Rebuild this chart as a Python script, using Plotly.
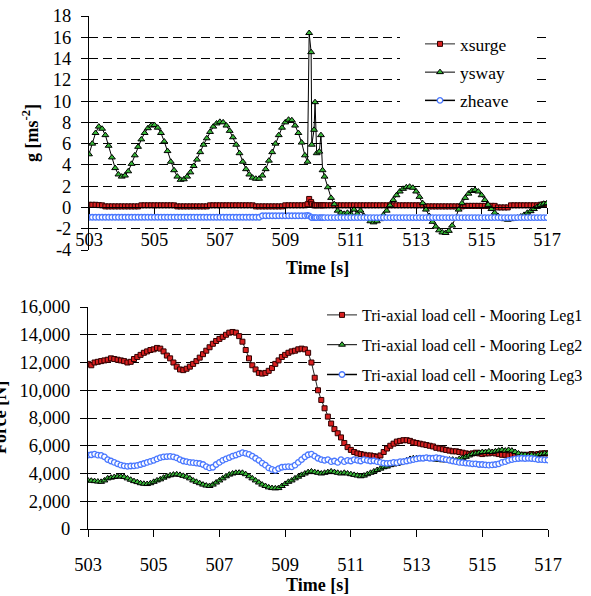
import numpy as np
import plotly.graph_objects as go

# ---------------- DATA ----------------
# Top chart: acceleration g [ms-2]
t_top_a = list(np.round(np.arange(503.0, 509.65, 0.1), 2))
t_top_spike = [509.68, 509.73, 509.79, 509.81, 509.88, 509.91, 509.96, 510.04, 510.09, 510.14, 510.2]
t_top_b = list(np.round(np.arange(510.3, 517.05, 0.1), 2))
time_top = t_top_a + t_top_spike + t_top_b

ysway = [5.0, 6.0, 7.0, 7.6, 7.4, 6.8, 5.8, 4.7, 3.7, 3.1,
         2.9, 3.0, 3.4, 4.1, 4.9, 5.7, 6.4, 7.0, 7.45, 7.7,
         7.75, 7.5, 7.0, 6.2, 5.3, 4.3, 3.5, 2.9, 2.6, 2.65,
         2.9, 3.3, 3.9, 4.5, 5.2, 5.9, 6.5, 7.1, 7.6, 7.9,
         8.05, 8.0, 7.7, 7.2, 6.6, 5.9, 5.1, 4.3, 3.6, 3.1,
         2.8, 2.7, 2.7, 3.0, 3.6, 4.4, 5.2, 6.0, 6.8, 7.5,
         8.0, 8.25, 8.2, 7.7, 7.0, 6.1, 4.9,
         4.3, 16.4, 14.6, 5.9, 7.3, 9.9, 5.1, 5.25, 6.8, 3.5, 2.9,
         1.9, 0.9, 0.3, -0.3, -0.5, -0.6, -0.5, -0.6, -0.2, -0.6,
         -0.3, -0.8, -1.0, -1.3, -1.4, -1.3, -1.1, -0.7, -0.3, 0.2,
         0.7, 1.15, 1.5, 1.75, 1.9, 1.95, 1.85, 1.5, 1.0, 0.4,
         -0.2, -0.8, -1.35, -1.8, -2.15, -2.35, -2.4, -2.2, -1.7, -1.0,
         -0.2, 0.4, 0.9, 1.3, 1.55, 1.65, 1.5, 1.15, 0.7, 0.25,
         -0.15, -0.5, -0.8, -1.0, -1.1, -1.15, -1.1, -1.05, -0.95, -0.85,
         -0.7, -0.5, -0.35, -0.15, 0.05, 0.25, 0.35, 0.4]

xsurge = [0.25, 0.25, 0.25, 0.22, 0.2,
          0.1, 0.1, 0.1, 0.1, 0.1, 0.1, 0.1, 0.1, 0.1, 0.1, 0.1,
          0.2, 0.2, 0.2, 0.2, 0.2, 0.2, 0.2, 0.2, 0.2, 0.2, 0.2,
          0.1, 0.1, 0.1, 0.1, 0.1, 0.1, 0.1, 0.1, 0.1, 0.1,
          0.2, 0.2, 0.2, 0.2, 0.2, 0.2, 0.2, 0.2, 0.2, 0.2, 0.2, 0.2, 0.2, 0.2,
          0.1, 0.1, 0.1, 0.1, 0.1, 0.1, 0.1, 0.1, 0.1,
          0.2, 0.2, 0.2, 0.2, 0.2, 0.2, 0.2,
          0.3, 0.8, 0.5, 0.3, 0.2, 0.2, 0.2, 0.2, 0.2, 0.2, 0.2,
          0.2, 0.2, 0.2, 0.2, 0.2, 0.2, 0.2, 0.2, 0.2, 0.2,
          0.2, 0.2, 0.2, 0.2, 0.2, 0.2, 0.2, 0.2, 0.2, 0.2,
          0.2, 0.2, 0.2, 0.2, 0.2, 0.2, 0.2, 0.2, 0.2, 0.2,
          0.1, 0.1, 0.1, 0.1, 0.1, 0.1, 0.1, 0.1, 0.1, 0.1, 0.1, 0.1,
          0.15, 0.15, 0.15, 0.15, 0.15, 0.15, 0.15, 0.15, 0.15, 0.15,
          0.0, 0.0, 0.0, 0.0,
          0.2, 0.2, 0.2, 0.2, 0.2, 0.2, 0.2, 0.2, 0.2, 0.25, 0.3, 0.3]

zheave = [-0.92, -0.92, -0.92, -0.92, -0.92, -0.92, -0.92, -0.92, -0.92, -0.92,
          -0.92, -0.92, -0.92, -0.92, -0.92, -0.92, -0.92, -0.92, -0.92, -0.92,
          -0.92, -0.92, -0.92, -0.92, -0.92, -0.92, -0.92, -0.92, -0.92, -0.92,
          -0.92, -0.92, -0.92, -0.92, -0.92, -0.92, -0.92, -0.92, -0.92, -0.92,
          -0.92, -0.92, -0.92, -0.92, -0.92, -0.92, -0.92, -0.92, -0.92, -0.92,
          -0.92, -0.92, -0.92,
          -0.78, -0.78, -0.78, -0.78, -0.78, -0.78, -0.78, -0.78, -0.78, -0.78,
          -0.78, -0.78, -0.78, -0.78,
          -0.75, -0.8, -0.9, -0.95, -0.95, -0.95, -0.95, -0.95, -0.95, -0.95, -0.95,
          -0.95, -0.95, -0.95, -0.95, -0.95, -0.95, -0.95, -0.95, -0.95, -0.95,
          -0.95, -0.95, -0.95, -0.95, -0.95, -0.95, -0.95, -0.95, -0.95, -0.95,
          -0.95, -0.95, -0.95, -0.95, -0.95, -0.95, -0.95, -0.95, -0.95, -0.95,
          -0.95, -0.95, -0.95, -0.95, -0.95, -0.95, -0.95, -0.95, -0.95, -0.95,
          -0.95, -0.95, -0.95, -0.95, -0.95, -0.95, -0.95, -0.95, -0.95, -0.95,
          -0.95, -0.95, -0.95, -0.95, -0.95, -0.95, -0.95, -0.95, -0.95, -0.95,
          -0.95, -0.95, -0.95, -0.95, -0.95, -0.95, -0.95, -0.95]

# Bottom chart: Force [N]
time_bot = list(np.round(np.arange(503.0, 517.05, 0.1), 2))

leg1 = [11900, 11800, 12000, 12050, 12100, 12150, 12200, 12300, 12250, 12200,
        12150, 12100, 12000, 12050, 12250, 12400, 12550, 12700, 12800, 12900,
        12950, 13050, 13000, 12800, 12500, 12300, 12000, 11700, 11500, 11450,
        11550, 11700, 11900, 12100, 12350, 12600, 12850, 13100, 13350, 13550,
        13700, 13850, 14000, 14150, 14200, 14150, 13900, 13500, 12900, 12300,
        11800, 11500, 11250, 11200, 11250, 11400, 11600, 11900, 12150, 12400,
        12550, 12700, 12800, 12850, 12950, 13000, 12950, 12700, 12000, 10900,
        10000, 9300, 8700, 8100, 7600, 7200, 6900, 6600, 6200, 5900,
        5700, 5550, 5450, 5400, 5350, 5300, 5300, 5250, 5200, 5300,
        5550, 5800, 6000, 6150, 6300, 6350, 6400, 6400, 6350, 6250,
        6200, 6150, 6100, 6050, 6000, 5950, 5850, 5800, 5750, 5700,
        5650, 5600, 5600, 5550, 5500, 5450, 5400, 5450, 5500, 5450,
        5400, 5450, 5450, 5500, 5450, 5400, 5350, 5350, 5300, 5350,
        5350, 5300, 5350, 5300, 5350, 5400, 5350, 5400, 5450, 5450, 5450]

leg2 = [3500, 3480, 3450, 3420, 3400, 3500, 3650, 3700, 3750, 3780,
        3780, 3750, 3650, 3550, 3450, 3380, 3300, 3260, 3240, 3300,
        3400, 3500, 3580, 3700, 3800, 3870, 3920, 3940, 3900, 3830,
        3770, 3650, 3500, 3400, 3300, 3200, 3130, 3100, 3200, 3350,
        3500, 3650, 3800, 3920, 4000, 4050, 4060, 4050, 3950, 3800,
        3650, 3500, 3350, 3200, 3100, 3000, 2950, 2930, 2950, 3100,
        3250, 3400, 3500, 3650, 3770, 3900, 4000, 4100, 4150, 4100,
        4050, 4000, 4050, 4100, 4150, 4100, 4050, 4000, 4050, 4000,
        3950, 3900, 3850, 3800, 3850, 3950, 4050, 4150, 4250, 4350,
        4450, 4500, 4600, 4650, 4700, 4750, 4850, 4950, 5050, 5100,
        5100, 5080, 5100, 5050, 5100, 5050, 5000, 5000, 4950, 4950,
        5000, 5000, 4950, 5050, 5100, 5200, 5300, 5400, 5450, 5500,
        5550, 5550, 5600, 5550, 5600, 5650, 5700, 5650, 5700, 5650,
        5550, 5450, 5350, 5350, 5300, 5350, 5300, 5350, 5400, 5450, 5450]

leg3 = [5330, 5350, 5400, 5320, 5300, 5200, 5000, 4900, 4800, 4700,
        4600, 4550, 4520, 4540, 4550, 4580, 4650, 4720, 4800, 4870,
        4950, 5050, 5150, 5200, 5220, 5230, 5200, 5120, 5000, 4900,
        4850, 4800, 4780, 4750, 4720, 4650, 4500, 4400, 4450, 4650,
        4800, 4950, 5050, 5150, 5250, 5330, 5420, 5500, 5450, 5380,
        5250, 5100, 4950, 4750, 4600, 4400, 4300, 4230, 4350, 4450,
        4480, 4500, 4480, 4600, 4800, 5000, 5200, 5350, 5400, 5250,
        5100, 5000, 4950, 5000, 4850, 4900, 4800, 5000, 4850, 4950,
        4900, 5000, 4950, 4900, 5000, 4950, 4900, 4920, 4850, 4800,
        4750, 4730, 4750, 4800, 4780, 4850, 4850, 4900, 4950, 5000,
        5050, 5100, 5100, 5150, 5100, 5100, 5150, 5100, 5050, 5000,
        4950, 4900, 4850, 4800, 4780, 4750, 4730, 4700, 4700, 4650,
        4650, 4620, 4600, 4620, 4650, 4700, 4800, 4850, 4950, 5000,
        5050, 5080, 5100, 5080, 5100, 5080, 5050, 5000, 5000, 4980, 4970]

x_ticks = [503, 505, 507, 509, 511, 513, 515, 517]
g_ticks = [-4, -2, 0, 2, 4, 6, 8, 10, 12, 14, 16, 18]
g_tick_text = ["-4", "-2", "0", "2", "4", "6", "8", "10", "12", "14", "16", "18"]
f_ticks = [0, 2000, 4000, 6000, 8000, 10000, 12000, 14000, 16000]

top_names = ["xsurge", "ysway", "zheave"]
bot_names = ["Tri-axial load cell - Mooring Leg1",
             "Tri-axial load cell - Mooring Leg2",
             "Tri-axial load cell - Mooring Leg3"]

# ---------------- STYLE ----------------
FONT = "Liberation Serif, Times New Roman, Times, serif"
W, H = 591, 596
RED = dict(symbol="square", size=5, color="#d82020", line=dict(color="#300000", width=1))
GREEN = dict(symbol="triangle-up", size=6, color="#38b838", line=dict(color="#000000", width=1))
BLUE = dict(symbol="circle", size=5.5, color="#ffffff", line=dict(color="#4a78ff", width=1.3))

# pixel geometry -> paper fractions
tx0, tx1 = 89 / W, 547 / W
ty0, ty1 = 1 - 250 / H, 1 - 16 / H
bx0, bx1 = 88 / W, 548 / W
by0, by1 = 1 - 529 / H, 1 - 307 / H
zero_pos = ty0 + (0 - (-4)) / 22 * (ty1 - ty0)

fig = go.Figure()

top_series = [xsurge, ysway, zheave]
bot_series = [leg1, leg2, leg3]
markers = [RED, GREEN, BLUE]
lines = [dict(color="#222222", width=1), dict(color="#000000", width=1), dict(color="#000000", width=1.5)]

for i in range(3):
    fig.add_trace(go.Scatter(x=time_top, y=top_series[i], name=top_names[i], mode="lines+markers",
                             marker=markers[i], line=lines[i], xaxis="x", yaxis="y",
                             legend="legend", legendgroup="t%d" % i))
for i in range(3):
    fig.add_trace(go.Scatter(x=time_bot, y=bot_series[i], name=bot_names[i], mode="lines+markers",
                             marker=markers[i], line=lines[i], xaxis="x2", yaxis="y2",
                             legend="legend2", legendgroup="b%d" % i))

tickfont = dict(family=FONT, size=18.5, color="black")
grid = dict(showgrid=True, gridcolor="black", gridwidth=1, griddash="9px,5px")
common = dict(automargin=False, ticks="outside", tickcolor="black", showline=True,
              linecolor="black", linewidth=1, zeroline=False, tickfont=tickfont)
# y axes: labels pushed out with long invisible ticks; short visible ticks drawn by overlay axes
ylab = dict(automargin=False, ticks="outside", ticklen=13, tickcolor="rgba(0,0,0,0)", showline=True,
            linecolor="black", linewidth=1, zeroline=False, tickfont=tickfont)
ytk = dict(automargin=False, ticks="outside", ticklen=7, tickcolor="black", showline=False,
           showgrid=False, zeroline=False, showticklabels=False)

fig.update_layout(
    template="none",
    width=W, height=H,
    margin=dict(l=0, r=0, t=0, b=0, autoexpand=False),
    paper_bgcolor="white", plot_bgcolor="white",
    font=dict(family=FONT, color="black"),
    hovermode=False,
    xaxis=dict(domain=[tx0, tx1], range=[503, 517], anchor="free", position=zero_pos,
               tickvals=x_ticks, ticklen=6, showgrid=False, ticklabelstandoff=9, **common),
    yaxis=dict(domain=[ty0, ty1], range=[-4, 18], anchor="x", tickvals=g_ticks, ticktext=g_tick_text,
               **grid, **ylab),
    yaxis3=dict(domain=[ty0, ty1], range=[-4, 18], anchor="x", overlaying="y", side="left",
                tickvals=g_ticks, **ytk),
    xaxis2=dict(domain=[bx0, bx1], range=[503, 517], anchor="y2", tickvals=x_ticks,
                ticklen=7, showgrid=False, ticklabelstandoff=12, **common),
    yaxis2=dict(domain=[by0, by1], range=[0, 16000], anchor="x2", tickvals=f_ticks, tickformat=",d",
                **grid, **ylab),
    yaxis4=dict(domain=[by0, by1], range=[0, 16000], anchor="x2", overlaying="y2", side="left",
                tickvals=f_ticks, **ytk),
    legend=dict(x=420 / W, y=1 - 26 / H, xanchor="left", yanchor="top", bgcolor="rgba(0,0,0,0)",
                font=dict(family=FONT, size=17.5, color="black"), itemwidth=30, tracegroupgap=2.5),
    legend2=dict(x=322 / W, y=1 - 298 / H, xanchor="left", yanchor="top", bgcolor="rgba(0,0,0,0)",
                 font=dict(family=FONT, size=16, color="black"), itemwidth=30, tracegroupgap=6),
    showlegend=True,
)

# invisible helper traces so the overlay tick axes are drawn
fig.add_trace(go.Scatter(x=[None], y=[None], xaxis="x", yaxis="y3", showlegend=False, hoverinfo="skip"))
fig.add_trace(go.Scatter(x=[None], y=[None], xaxis="x2", yaxis="y4", showlegend=False, hoverinfo="skip"))

# white panels hiding gridlines behind the legends (placed where no data passes)
for (px0, px1, py0, py1) in [(400, 536, 28, 112), (322, 591, 298, 386), (297, 322, 298, 342)]:
    fig.add_shape(type="rect", xref="paper", yref="paper", x0=px0 / W, x1=px1 / W,
                  y0=1 - py1 / H, y1=1 - py0 / H, fillcolor="white", line=dict(width=0), layer="above")

title_font = dict(family=FONT, size=18, color="black")
fig.add_annotation(text="<b>Time [s]</b>", xref="paper", yref="paper", x=318 / W, y=1 - 268 / H,
                   xanchor="center", yanchor="middle", showarrow=False, font=title_font)
fig.add_annotation(text="<b>Time [s]</b>", xref="paper", yref="paper", x=318 / W, y=1 - 585 / H,
                   xanchor="center", yanchor="middle", showarrow=False, font=title_font)
fig.add_annotation(text="<b>g [ms<sup>-2</sup>]</b>", xref="paper", yref="paper", x=30 / W, y=1 - 133 / H,
                   xanchor="center", yanchor="middle", showarrow=False, font=title_font, textangle=-90)
fig.add_annotation(text="<b>Force [N]</b>", xref="paper", yref="paper", x=0 / W, y=1 - 418 / H,
                   xanchor="center", yanchor="middle", showarrow=False, font=title_font, textangle=-90)

fig.write_html("out.html", config={"displayModeBar": False},
               post_script="document.body.style.margin='0px';")
